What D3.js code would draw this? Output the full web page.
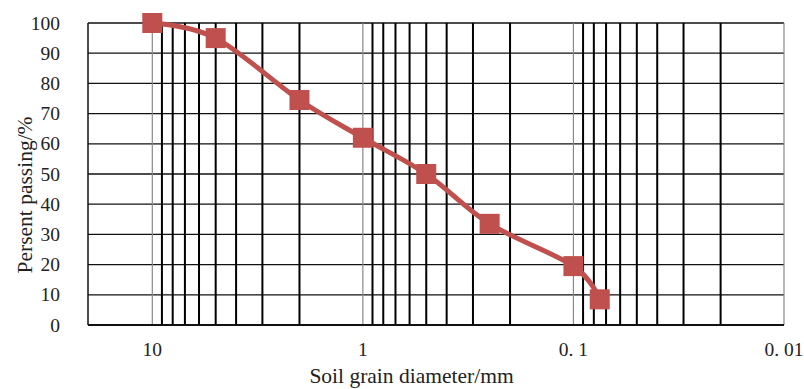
<!DOCTYPE html>
<meta charset="utf-8">
<style>
body { margin: 0; background: #fff; }
</style>
<svg width="804" height="389"></svg>
<script src="https://d3js.org/d3.v7.min.js"></script>
<script>

var diameters = [10, 5, 2, 1, 0.5, 0.25, 0.1, 0.075];
var passing = [100, 95, 74.5, 62, 50, 33.5, 19.5, 8.5];
var yTicks = [0, 10, 20, 30, 40, 50, 60, 70, 80, 90, 100];
var decades = [10, 1, 0.1, 0.01];
var decadeLabels = ["10", "1", "0. 1", "0. 01"];

var svg = d3.select("svg"),
    plotL = 88, plotR = 784, plotT = 23, plotB = 325;

// reversed log axis: big grains on the left
var x = d3.scaleLog().domain([20.2, 0.01]).range([plotL, plotR]);
var y = d3.scaleLinear().domain([0, 100]).range([plotB, plotT]);

// minor lines 2..9 inside each decade
var minors = [];
[1, 0.1, 0.01].forEach(function(d) {
  for (var k = 2; k <= 9; k++) minors.push(d * k);
});

svg.append("g").selectAll("line")
  .data(yTicks)
  .enter().append("line")
    .attr("x1", plotL).attr("x2", plotR)
    .attr("y1", d => y(d)).attr("y2", d => y(d))
    .attr("stroke", "#111").attr("stroke-width", 1.3);

svg.append("g").selectAll("line")
  .data(minors)
  .enter().append("line")
    .attr("x1", d => x(d)).attr("x2", d => x(d))
    .attr("y1", plotT).attr("y2", plotB)
    .attr("stroke", "#000").attr("stroke-width", 2);

svg.append("g").selectAll("line")
  .data(decades)
  .enter().append("line")
    .attr("x1", d => x(d)).attr("x2", d => x(d))
    .attr("y1", plotT).attr("y2", plotB)
    .attr("stroke", "#888").attr("stroke-width", 1.2);

// frame
svg.append("line").attr("x1", plotL).attr("x2", plotL).attr("y1", plotT).attr("y2", plotB)
  .attr("stroke", "#111").attr("stroke-width", 1.5);
svg.append("line").attr("x1", plotL).attr("x2", plotR).attr("y1", plotB).attr("y2", plotB)
  .attr("stroke", "#111").attr("stroke-width", 1.8);

function label(sel, size) {
  return sel.style("font-family", "'Liberation Serif'")
    .style("font-size", size + "px").attr("fill", "#222");
}

// tick labels
svg.append("g").selectAll("text")
  .data(yTicks)
  .enter().append("text")
    .attr("x", 60).attr("y", d => y(d) + 6.5)
    .attr("text-anchor", "end")
    .call(label, 19.5)
    .text(d => d);

svg.append("g").selectAll("text")
  .data(decades)
  .enter().append("text")
    .attr("x", d => x(d)).attr("y", 356)
    .attr("text-anchor", "middle")
    .call(label, 19.5)
    .text((d, i) => decadeLabels[i]);

svg.append("text")
  .attr("x", 411.5).attr("y", 383)
  .attr("text-anchor", "middle")
  .call(label, 21.5)
  .text("Soil grain diameter/mm");

svg.append("text")
  .attr("transform", "translate(32,195) rotate(-90)")
  .attr("text-anchor", "middle")
  .call(label, 21.5)
  .text("Persent passing/%");

// the curve
var pts = diameters.map((d, i) => [x(d), y(passing[i])]);

svg.append("path")
  .attr("d", d3.line().curve(d3.curveCatmullRom.alpha(0))(pts))
  .attr("fill", "none")
  .attr("stroke", "#C0504D")
  .attr("stroke-width", 5);

svg.append("g").selectAll("rect")
  .data(pts)
  .enter().append("rect")
    .attr("x", d => d[0] - 10).attr("y", d => d[1] - 10)
    .attr("width", 20).attr("height", 20)
    .attr("fill", "#C0504D");

</script>
